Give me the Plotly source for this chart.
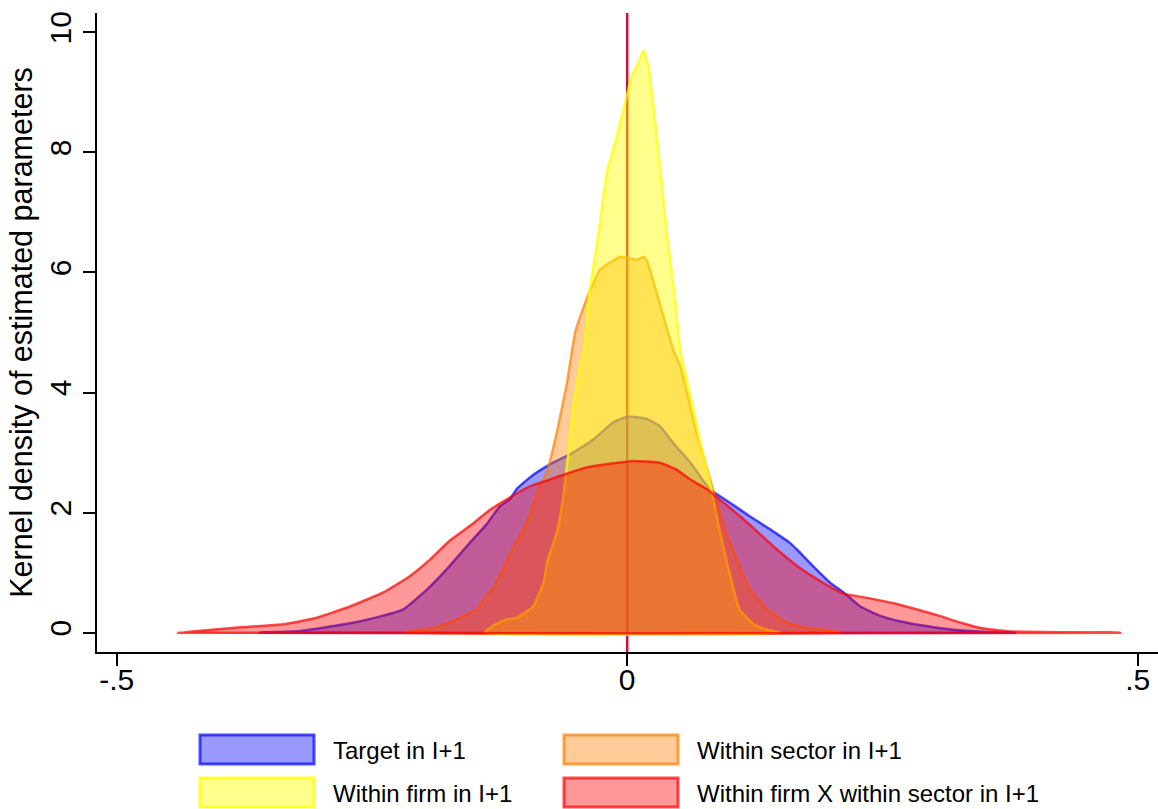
import plotly.graph_objects as go

# ---------------- data ----------------
target_x = [-0.36, -0.32, -0.27, -0.24, -0.22, -0.196, -0.174, -0.154, -0.138, -0.125, -0.115, -0.108,
            -0.092, -0.076, -0.053, -0.033, -0.014, 0.001, 0.019, 0.032, 0.045, 0.062, 0.081, 0.101,
            0.12, 0.14, 0.159, 0.166, 0.182, 0.199, 0.212, 0.228, 0.248, 0.267, 0.293, 0.319, 0.349, 0.38]
target_y = [0.0, 0.03, 0.16, 0.28, 0.38, 0.72, 1.11, 1.5, 1.8, 2.1, 2.22, 2.4,
            2.63, 2.8, 3.0, 3.22, 3.5, 3.6, 3.56, 3.44, 3.16, 2.83, 2.39, 2.16,
            1.94, 1.72, 1.5, 1.39, 1.11, 0.83, 0.67, 0.44, 0.28, 0.19, 0.11, 0.05, 0.015, 0.0]

sector_x = [-0.22, -0.19, -0.174, -0.147, -0.138, -0.131, -0.125, -0.115, -0.098, -0.085, -0.079,
            -0.069, -0.059, -0.051, -0.041, -0.036, -0.027, -0.017, -0.007, 0.001, 0.009, 0.016, 0.019,
            0.026, 0.035, 0.045, 0.052, 0.068, 0.085, 0.097, 0.11, 0.12, 0.137, 0.156, 0.176, 0.195, 0.21]
sector_y = [0.0, 0.08, 0.17, 0.39, 0.61, 0.75, 0.94, 1.3, 1.85, 2.47, 2.66,
            3.33, 4.16, 5.0, 5.5, 5.71, 6.04, 6.16, 6.26, 6.24, 6.21, 6.26, 6.21,
            5.83, 5.3, 4.72, 4.44, 3.33, 2.33, 1.66, 1.11, 0.72, 0.39, 0.17, 0.08, 0.05, 0.0]

firm_x = [-0.14, -0.129, -0.118, -0.108, -0.092, -0.082, -0.078, -0.069, -0.063, -0.058, -0.053,
          -0.046, -0.042, -0.038, -0.028, -0.02, -0.01, -0.0005, 0.0044, 0.01, 0.0158, 0.0207, 0.0256,
          0.032, 0.0387, 0.0468, 0.0517, 0.065, 0.073, 0.081, 0.091, 0.101, 0.11, 0.124, 0.137, 0.15]
firm_y = [0.0, 0.14, 0.22, 0.25, 0.44, 0.83, 1.2, 1.66, 2.22, 2.94, 3.71,
          4.44, 4.72, 5.55, 6.66, 7.66, 8.27, 8.93, 9.27, 9.45, 9.7, 9.43, 8.77,
          7.77, 6.66, 5.55, 4.72, 3.71, 3.05, 2.5, 1.66, 0.94, 0.39, 0.14, 0.05, 0.0]

cross_x = [-0.44, -0.386, -0.337, -0.304, -0.271, -0.239, -0.213, -0.193, -0.174, -0.154, -0.134,
           -0.115, -0.095, -0.076, -0.066, -0.04, -0.014, 0.006, 0.032, 0.048, 0.062, 0.078, 0.097,
           0.12, 0.143, 0.169, 0.192, 0.212, 0.235, 0.261, 0.283, 0.306, 0.326, 0.349, 0.378, 0.43, 0.483]
cross_y = [0.0, 0.08, 0.14, 0.25, 0.44, 0.67, 0.94, 1.22, 1.53, 1.78, 2.05,
           2.25, 2.44, 2.55, 2.61, 2.75, 2.82, 2.86, 2.83, 2.72, 2.55, 2.39, 2.13,
           1.8, 1.44, 1.08, 0.83, 0.65, 0.58, 0.49, 0.39, 0.28, 0.17, 0.07, 0.02, 0.008, 0.0]

series_names = ["Target in I+1", "Within sector in I+1", "Within firm in I+1",
                "Within firm X within sector in I+1"]
x_tick_vals = [-0.5, 0, 0.5]
x_tick_text = ["-.5", "0", ".5"]
y_tick_vals = [0, 2, 4, 6, 8, 10]
y_tick_text = ["0", "2", "4", "6", "8", "10"]
y_title = "Kernel density of estimated parameters"

# ---------------- styles ----------------
fills = ["rgba(0,0,255,0.4)", "rgba(255,127,0,0.4)", "rgba(255,255,0,0.45)", "rgba(255,0,0,0.4)"]
lines = ["rgba(0,0,255,0.7)", "rgba(255,127,0,0.7)", "rgba(255,255,0,0.75)", "rgba(255,0,0,0.7)"]
FONT = "Liberation Sans, Arial, sans-serif"

fig = go.Figure()
data = [(target_x, target_y), (sector_x, sector_y), (firm_x, firm_y), (cross_x, cross_y)]
for (xs, ys), nm, fc, lc in zip(data, series_names, fills, lines):
    fig.add_trace(go.Scatter(
        x=list(xs) + [xs[0]], y=list(ys) + [ys[0]], name=nm, mode="lines",
        fill="toself", fillcolor=fc,
        line=dict(color=lc, width=2.5, shape="spline", smoothing=0.4),
        showlegend=False, hoverinfo="skip"))

# vertical reference line at zero (below the areas)
fig.add_shape(type="line", xref="x", yref="y domain", x0=0, x1=0, y0=-0.003, y1=1,
              line=dict(color="#c8143c", width=2.5), layer="below")

# manual legend (2 columns)
L = 97.0
W = 1158.0 - L
B = 652.0
H = 652.0 - 13.0
def px(v):
    return (v - L) / W
def py(v):
    return (B - v) / H

leg_pos = [(200, 735), (564, 735), (200, 778), (564, 778)]
for (lx, ty), nm, fc, lc in zip(leg_pos, series_names, fills, lines):
    fig.add_shape(type="rect", xref="paper", yref="paper",
                  x0=px(lx), x1=px(lx + 114), y0=py(ty + 29), y1=py(ty),
                  fillcolor=fc, line=dict(color=lc, width=3))
    fig.add_annotation(xref="paper", yref="paper", x=px(lx + 131), y=py(ty + 15),
                       text=nm, showarrow=False, xanchor="left", yanchor="middle",
                       font=dict(family=FONT, size=24, color="black"))

x0 = (L - 627.2) / 1021.0
x1 = (1158.0 - 627.2) / 1021.0
y0 = -(652.3 - 633.0) / 60.05
y1 = (633.0 - 13.3) / 60.05

fig.update_layout(
    width=1158, height=809,
    margin=dict(l=97, r=0, t=13, b=157, autoexpand=False),
    paper_bgcolor="white", plot_bgcolor="white",
    font=dict(family=FONT, color="black"),
    showlegend=False,
    xaxis=dict(range=[x0, x1], showgrid=False, zeroline=False, showline=True,
               linecolor="black", linewidth=2, ticks="outside", ticklen=12, tickwidth=2,
               tickcolor="black", tickvals=x_tick_vals, ticktext=x_tick_text,
               ticklabelstandoff=-12, automargin=False,
               tickfont=dict(family=FONT, size=30, color="black")),
    yaxis=dict(range=[y0, y1], showgrid=False, zeroline=False, showline=True,
               linecolor="black", linewidth=2, ticks="outside", ticklen=12, tickwidth=2,
               tickcolor="black", tickvals=y_tick_vals, ticktext=y_tick_text, tickangle=-90,
               automargin=False,
               tickfont=dict(family=FONT, size=30, color="black"),
               title=dict(text=y_title, font=dict(family=FONT, size=30.5, color="black"), standoff=2)),
)

fig.write_html("out.html", config={"displayModeBar": False},
               post_script="document.body.style.margin='0';document.body.style.padding='0';")
